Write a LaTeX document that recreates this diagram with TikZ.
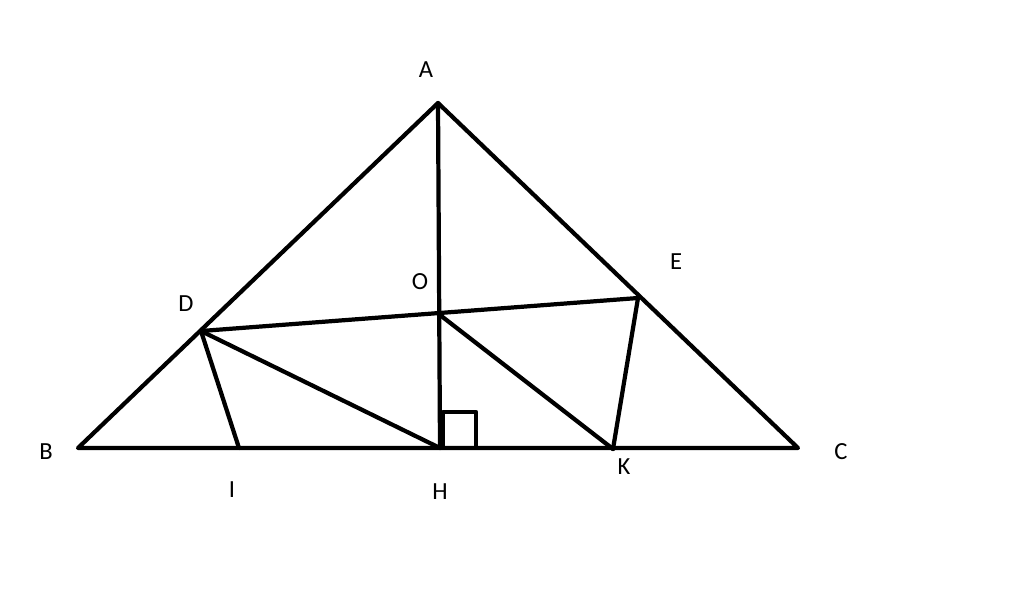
\documentclass[tikz,border=0pt]{standalone}
\usepackage{fontspec}
\setmainfont{Carlito}
\begin{document}
\begin{tikzpicture}[x=0.02cm,y=-0.02cm,
  seg/.style={line width=2.4pt,line cap=round,line join=round},
  lbl/.style={font=\fontsize{14}{16}\selectfont,inner sep=0pt}]
\useasboundingbox (0,0) rectangle (1024,603);
\coordinate (A) at (438,103);
\coordinate (B) at (78,448);
\coordinate (C) at (798,448);
\coordinate (H) at (440,448);
\coordinate (D) at (201,331);
\coordinate (E) at (638,298);
\coordinate (O) at (440,315);
\coordinate (I) at (239,448);
\coordinate (K) at (613,449);
\coordinate (S1) at (443,412);
\coordinate (S2) at (476,448);
\draw[seg] (B) -- (A) -- (C) -- cycle;
\draw[seg] (A) -- (H);
\draw[seg] (D) -- (E);
\draw[seg] (D) -- (I);
\draw[seg] (D) -- (H);
\draw[seg] (O) -- (K);
\draw[seg] (E) -- (K);
\draw[seg] (S1) rectangle (S2);
\node[lbl] (lA) at (426,70) {A};
\node[lbl] (lB) at (46,452) {B};
\node[lbl] (lC) at (841,452) {C};
\node[lbl] (lD) at (186,304) {D};
\node[lbl] (lE) at (676,262) {E};
\node[lbl] (lO) at (420,282) {O};
\node[lbl] (lI) at (232,490) {I};
\node[lbl] (lH) at (440,492) {H};
\node[lbl] (lK) at (624,467) {K};
\end{tikzpicture}
\end{document}
